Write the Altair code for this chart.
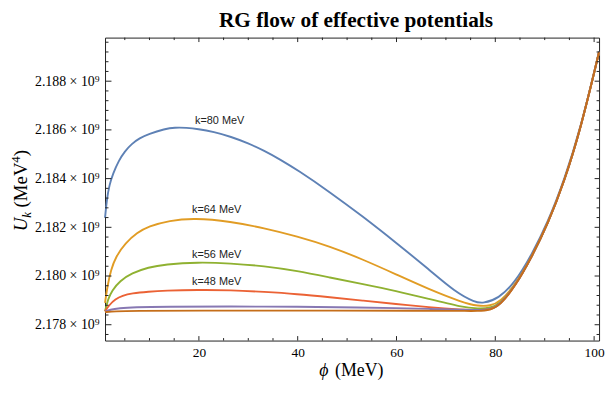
import altair as alt
import pandas as pd

TITLE = "RG flow of effective potentials"
X_TITLE_PARTS = ["ϕ", "(MeV)"]
Y_TITLE_PARTS = ["U", "k", "(MeV", "4", ")"]

# tick values
x_ticks = [20, 40, 60, 80, 100]
x_minor = [5, 10, 15, 25, 30, 35, 45, 50, 55, 65, 70, 75, 85, 90, 95]
y_ticks = [2.178, 2.180, 2.182, 2.184, 2.186, 2.188]
y_minor = [2.1776, 2.1784, 2.1788, 2.1792, 2.1796, 2.1804, 2.1808, 2.1812, 2.1816,
           2.1824, 2.1828, 2.1832, 2.1836, 2.1844, 2.1848, 2.1852, 2.1856,
           2.1864, 2.1868, 2.1872, 2.1876, 2.1884, 2.1888, 2.1892, 2.1896]

# series (U in units of 1e9 MeV^4)
phi_k80 = [1.0, 1.4, 1.9, 2.6, 3.8, 5.0, 6.4, 8.0, 9.8, 13.1, 15.1, 17.5, 19.8, 23.0, 26.5,
           30.0, 33.2, 36.5, 39.9, 46.5, 53.2, 59.9, 66.5, 71.9, 75.9, 77.5, 80.6, 84.0,
           87.3, 90.6, 94.0, 97.3, 100.7, 101.0]
U_k80 = [2.18239, 2.18320, 2.18375, 2.18420, 2.18475, 2.18512, 2.18543, 2.18566, 2.18583,
         2.18604, 2.18610, 2.18609, 2.18604, 2.18592, 2.18572, 2.18545, 2.18515, 2.18478,
         2.18436, 2.18345, 2.18244, 2.18137, 2.18028, 2.17934, 2.17892, 2.17888, 2.17906,
         2.17974, 2.18085, 2.18219, 2.18396, 2.18610, 2.18895, 2.18922]

phi_k64 = [1.0, 1.5, 2.2, 3.2, 5.1, 7.5, 9.8, 14.0, 19.1, 26.4, 33.2, 39.9, 46.5, 53.2,
           59.9, 66.5, 73.3, 76.5, 79.0, 81.0, 84.0, 87.3, 90.6, 94.0, 97.3, 100.7, 101.0]
U_k64 = [2.17890, 2.17960, 2.18025, 2.18080, 2.18135, 2.18178, 2.18204, 2.18228, 2.18238,
         2.18224, 2.18197, 2.18163, 2.18122, 2.18068, 2.18007, 2.17946, 2.17892, 2.17876,
         2.17877, 2.17895, 2.17962, 2.18076, 2.18212, 2.18390, 2.18607, 2.18893, 2.18920]

phi_k56 = [1.0, 1.6, 2.4, 4.0, 6.4, 9.8, 13.1, 19.8, 26.4, 33.2, 39.9, 46.5, 53.2, 59.9,
           66.5, 73.3, 76.5, 79.0, 81.0, 84.0, 87.3, 90.6, 94.0, 97.3, 100.7, 101.0]
U_k56 = [2.17855, 2.17905, 2.17940, 2.17980, 2.18012, 2.18036, 2.18048, 2.18057, 2.18052,
         2.18041, 2.18021, 2.17994, 2.17967, 2.17939, 2.17906, 2.17872, 2.17866, 2.17868,
         2.17887, 2.17960, 2.18075, 2.18212, 2.18390, 2.18607, 2.18893, 2.18920]

phi_k48 = [1.0, 1.8, 3.1, 4.5, 6.4, 9.8, 13.1, 19.8, 26.4, 33.2, 39.9, 46.5, 53.2, 59.9,
           66.5, 73.3, 76.5, 79.0, 81.0, 84.0, 87.3, 90.6, 94.0, 97.3, 100.7, 101.0]
U_k48 = [2.17855, 2.17880, 2.17905, 2.17919, 2.17929, 2.17936, 2.17940, 2.17943, 2.17942,
         2.17935, 2.17926, 2.17913, 2.17899, 2.17885, 2.17872, 2.17862, 2.17859, 2.17862,
         2.17882, 2.17958, 2.18075, 2.18212, 2.18390, 2.18607, 2.18893, 2.18920]

phi_k5 = [1.0, 2.0, 3.8, 7.0, 13.1, 26.4, 39.9, 53.2, 59.9, 66.5, 73.3,
          76.5, 79.0, 81.0, 84.0, 87.3, 90.6, 94.0, 97.3, 100.7, 101.0]
U_k5 = [2.17853, 2.17862, 2.17868, 2.17872, 2.17874, 2.17875, 2.17874, 2.17871, 2.17868,
        2.17865, 2.17862, 2.17860, 2.17862, 2.17882, 2.17958, 2.18075, 2.18212, 2.18390,
        2.18607, 2.18893, 2.18920]

phi_k6 = [1.0, 3.0, 6.4, 20.0, 39.9, 66.5, 73.3,
          76.5, 79.0, 81.0, 84.0, 87.3, 90.6, 94.0, 97.3, 100.7, 101.0]
U_k6 = [2.17852, 2.17855, 2.17857, 2.17858, 2.17858, 2.17857, 2.17857,
        2.17856, 2.17860, 2.17880, 2.17957, 2.18075, 2.18212, 2.18390, 2.18607, 2.18893,
        2.18920]

series_phi = [phi_k80, phi_k64, phi_k56, phi_k48, phi_k5, phi_k6]
series_U = [U_k80, U_k64, U_k56, U_k48, U_k5, U_k6]
colors = ["#5E81B5", "#E19C24", "#8FB131", "#EB6235", "#8778B3", "#C56E1A"]

label_text = ["k=80 MeV", "k=64 MeV", "k=56 MeV", "k=48 MeV"]
label_phi = [24.2, 23.6, 23.6, 23.6]
label_U = [2.18636, 2.18270, 2.18087, 2.17975]

W, H = 499, 306
xs = alt.Scale(domain=[1, 101], nice=False, zero=False)
ys = alt.Scale(domain=[2.17735, 2.18979], nice=False, zero=False)

LBL = dict(labelFont="Liberation Serif", labelColor="black",
           grid=False, domain=False, ticks=False, tickSize=0)
xaxis = alt.Axis(values=x_ticks, format="d", labelPadding=5, labelFontSize=13.5, **LBL)
yaxis = alt.Axis(values=y_ticks, labelExpr="format(datum.value, '.3f') + ' × 10⁹'",
                 labelFontSize=14, labelPadding=6, **LBL)

X = alt.X("phi:Q", scale=xs, axis=xaxis, title=None)
Y = alt.Y("U:Q", scale=ys, axis=yaxis, title=None)

layers = []
for p, u, c in zip(series_phi, series_U, colors):
    df = pd.DataFrame({"phi": p, "U": u})
    layers.append(
        alt.Chart(df).mark_line(color=c, strokeWidth=1.9, interpolate="basis")
        .encode(x=X, y=Y)
    )

lab_df = pd.DataFrame({"phi": label_phi, "U": label_U, "t": label_text})
layers.append(
    alt.Chart(lab_df).mark_text(font="Liberation Sans", fontSize=11, color="#222",
                                align="center", baseline="middle")
    .encode(x=X, y=Y, text="t:N")
)

xmaj = pd.DataFrame({"phi": x_ticks})
xmin = pd.DataFrame({"phi": x_minor})
ymaj = pd.DataFrame({"U": y_ticks})
ymin = pd.DataFrame({"U": y_minor})
tc = "#222"
for d, L in [(xmaj, 4.5), (xmin, 2.5)]:
    layers.append(alt.Chart(d).mark_rule(color=tc, strokeWidth=1)
                  .encode(x=X, y=alt.value(H), y2=alt.value(H - L)))
    layers.append(alt.Chart(d).mark_rule(color=tc, strokeWidth=1)
                  .encode(x=X, y=alt.value(0), y2=alt.value(L)))
for d, L, R in [(ymaj, 6.5, 4.5), (ymin, 3.5, 2.5)]:
    layers.append(alt.Chart(d).mark_rule(color=tc, strokeWidth=1)
                  .encode(y=Y, x=alt.value(0), x2=alt.value(L)))
    layers.append(alt.Chart(d).mark_rule(color=tc, strokeWidth=1)
                  .encode(y=Y, x=alt.value(W), x2=alt.value(W - R)))


def title_piece(text, x, y, size, italic=False, angle=0):
    kw = dict(font="Liberation Serif", fontSize=size, color="black", align="left",
              baseline="alphabetic", fontStyle="italic" if italic else "normal")
    if angle:
        kw["angle"] = angle
    return (alt.Chart(pd.DataFrame({"t": [text]})).mark_text(**kw)
            .encode(text="t:N", x=alt.value(x), y=alt.value(y)))


# axis titles built from pieces (italic symbols, sub/superscripts)
layers.append(title_piece(X_TITLE_PARTS[0], 216.5, 342, 18, italic=True))
layers.append(title_piece(X_TITLE_PARTS[1], 232.3, 342, 18))
layers.append(title_piece(Y_TITLE_PARTS[0], -79, 195.7, 19, italic=True, angle=270))
layers.append(title_piece(Y_TITLE_PARTS[1], -75, 182.0, 13, italic=True, angle=270))
layers.append(title_piece(Y_TITLE_PARTS[2], -79, 171.5, 19, angle=270))
layers.append(title_piece(Y_TITLE_PARTS[3], -85.5, 126.3, 13, angle=270))
layers.append(title_piece(Y_TITLE_PARTS[4], -79, 119.8, 19, angle=270))

chart = alt.layer(*layers).properties(
    width=W, height=H,
    title=alt.TitleParams(TITLE, font="Liberation Serif", fontSize=21.5, fontWeight="bold",
                          anchor="middle", offset=6, dx=4, color="black"),
    padding={"left": 98, "top": 28, "right": 6, "bottom": 44},
    autosize=alt.AutoSizeParams(type="none"),
).configure_view(stroke="#222", strokeWidth=1)

chart.save("out.html", embed_options={"renderer": "svg", "actions": False})
